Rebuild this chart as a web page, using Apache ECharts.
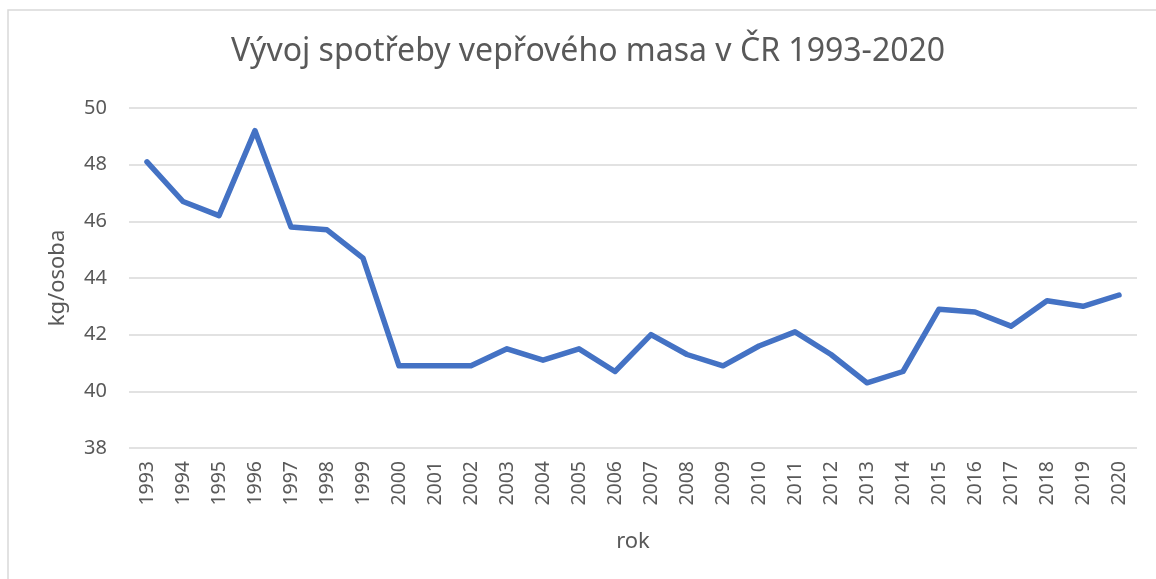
<!DOCTYPE html>
<html>
<head>
<meta charset="utf-8">
<script src="https://cdn.jsdelivr.net/npm/echarts@6/dist/echarts.min.js"></script>
<style>
  html, body { margin: 0; padding: 0; background: #fff; }
  #chart { width: 1156px; height: 579px; }
</style>
</head>
<body>
<div id="chart"></div>
<script>
// roky a spotřeba vepřového masa (kg/osoba)
var years = ["1993", "1994", "1995", "1996", "1997", "1998", "1999", "2000", "2001", "2002",
  "2003", "2004", "2005", "2006", "2007", "2008", "2009", "2010", "2011", "2012",
  "2013", "2014", "2015", "2016", "2017", "2018", "2019", "2020"];
var consumption = [48.1, 46.7, 46.2, 49.2, 45.8, 45.7, 44.7, 40.9, 40.9, 40.9,
  41.5, 41.1, 41.5, 40.7, 42.0, 41.3, 40.9, 41.6, 42.1, 41.3,
  40.3, 40.7, 42.9, 42.8, 42.3, 43.2, 43.0, 43.4];

var chart = echarts.init(document.getElementById("chart"));
var textColor = "#595959";
var font = "Noto Sans";

var option = {
  animation: false,
  title: {
    text: "Vývoj spotřeby vepřového masa v ČR 1993-2020",
    left: 583,
    textAlign: "center",
    top: 31,
    textStyle: { color: textColor, fontFamily: font, fontSize: 32, fontWeight: "normal" }
  },
  graphic: [
    {
      type: "rect",
      shape: { x: 8, y: 10, width: 1160, height: 600 },
      style: { fill: "none", stroke: "#d9d9d9", lineWidth: 1.5 },
      silent: true
    }
  ],
  grid: { left: 129, right: 19, top: 108, bottom: 131 },
  xAxis: {
    type: "category",
    data: years,
    boundaryGap: true,
    name: "rok",
    nameLocation: "middle",
    nameGap: 83,
    nameTextStyle: { color: textColor, fontFamily: font, fontSize: 22 },
    axisLine: { show: false },
    axisTick: { show: false },
    axisLabel: { rotate: 90, color: textColor, fontFamily: font, fontSize: 19.5, margin: 13 }
  },
  yAxis: {
    type: "value",
    min: 38,
    max: 50,
    interval: 2,
    name: "kg/osoba",
    nameLocation: "middle",
    nameGap: 60,
    nameTextStyle: { color: textColor, fontFamily: font, fontSize: 22 },
    axisLine: { show: false },
    axisTick: { show: false },
    axisLabel: { color: textColor, fontFamily: font, fontSize: 20, margin: 22 },
    splitLine: { lineStyle: { color: "#d9d9d9", width: 1.5 } }
  },
  series: [
    {
      type: "line",
      data: consumption,
      symbol: "none",
      lineStyle: { color: "#4472C4", width: 5.5, cap: "round", join: "round" }
    }
  ]
};
chart.setOption(option);
</script>
</body>
</html>
